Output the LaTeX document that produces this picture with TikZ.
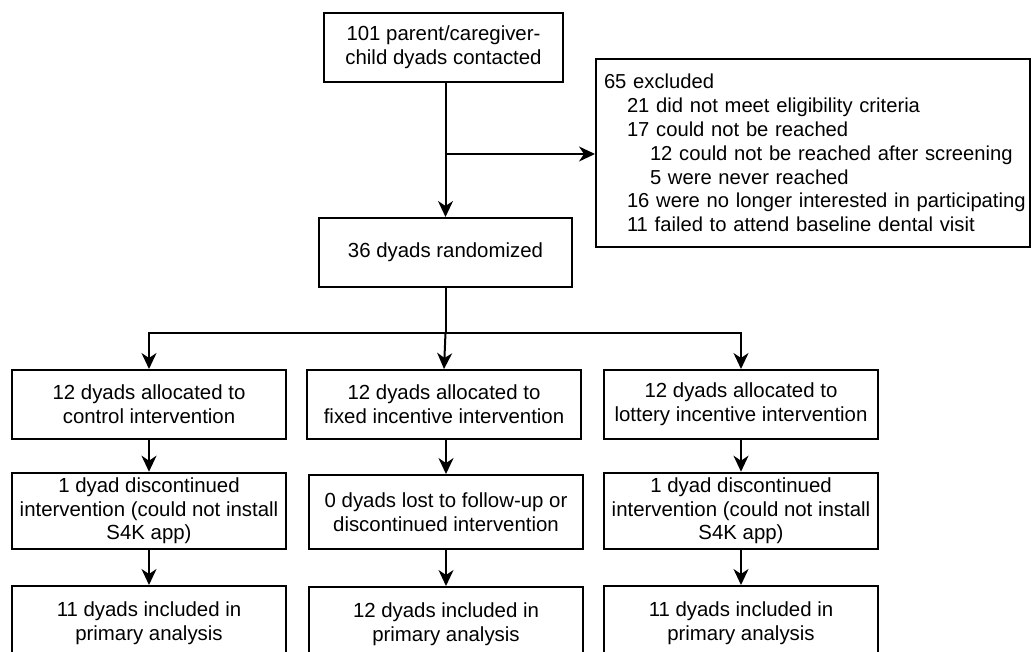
\documentclass[tikz,border=0pt]{standalone}
\usepackage{fontspec}
\setmainfont{Liberation Sans}
\usetikzlibrary{arrows.meta}
\tikzset{
  x=1pt, y=-1pt,
  box/.style={draw, line width=2pt, inner sep=0pt, align=center,
    minimum width=274pt, font=\fontsize{20.4}{23.6}\selectfont},
  arr/.style={line width=2pt, -{Stealth[length=16pt,width=15pt,inset=5pt]}},
  ln/.style={line width=2pt}
}
\begin{document}
\begin{tikzpicture}
\useasboundingbox (0,0) rectangle (1035,652);
\clip (0,0) rectangle (1035,652);
\fill[white] (0,0) rectangle (1035,652);
% top
\node[box, minimum width=239pt, minimum height=69pt] (top) at (443.5,47.5)
  {101 parent/caregiver-\\child dyads contacted};
\node[box, minimum width=434pt, minimum height=188pt, align=left,
  text width=418pt, inner xsep=8pt,
  font=\fontsize{20.2}{23.8}\selectfont] (excl) at (813,153)
  {\mbox{65 excluded}\\
   \mbox{\hspace*{23pt}21 did not meet eligibility criteria}\\
   \mbox{\hspace*{23pt}17 could not be reached}\\
   \mbox{\hspace*{46pt}12 could not be reached after screening}\\
   \mbox{\hspace*{46pt}5 were never reached}\\
   \mbox{\hspace*{23pt}16 were no longer interested in participating}\\
   \mbox{\hspace*{23pt}11 failed to attend baseline dental visit}};
\node[box, minimum width=253pt, minimum height=69pt] (rand) at (445.5,252.5)
  {36 dyads randomized};
% row 1
\node[box, minimum height=69pt] (c1) at (149,404.5)
  {12 dyads allocated to\\control intervention};
\node[box, minimum height=69pt] (c2) at (444,404.5)
  {12 dyads allocated to\\fixed incentive intervention};
\node[box, minimum height=69pt] (c3) at (741,404.5)
  {12 dyads allocated to\\lottery incentive intervention};
% row 2
\node[box, minimum height=76.6pt] (d1) at (149,511)
  {1 dyad discontinued\\intervention (could not install\\S4K app)};
\node[box, minimum height=74.3pt] (d2) at (446,512.2)
  {0 dyads lost to follow-up or\\discontinued intervention};
\node[box, minimum height=76.6pt] (d3) at (741,511)
  {1 dyad discontinued\\intervention (could not install\\S4K app)};
% row 3
\node[box, minimum height=74pt] (e1) at (149,623)
  {11 dyads included in\\primary analysis};
\node[box, minimum height=74pt] (e2) at (446,624)
  {12 dyads included in\\primary analysis};
\node[box, minimum height=74pt] (e3) at (741,623)
  {11 dyads included in\\primary analysis};
% connectors
\coordinate (s1) at (top.south -| rand.north);
\coordinate (j1) at (445.5,154);
\coordinate (j2) at (445.5,332.5);
\draw[arr] (s1) -- (rand.north);
\draw[arr] (j1) -- (j1 -| excl.west);
\draw[ln] (rand.south) -- (j2);
\draw[arr] (j2) -| (c1.north);
\draw[arr] (j2) -| (c3.north);
\draw[arr] (j2) -- (c2.north);
\draw[arr] (c1) -- (d1);
\draw[arr] (c2.south -| d2.north) -- (d2.north);
\draw[arr] (c3) -- (d3);
\draw[arr] (d1) -- (e1);
\draw[arr] (d2) -- (e2);
\draw[arr] (d3) -- (e3);
\end{tikzpicture}
\end{document}
